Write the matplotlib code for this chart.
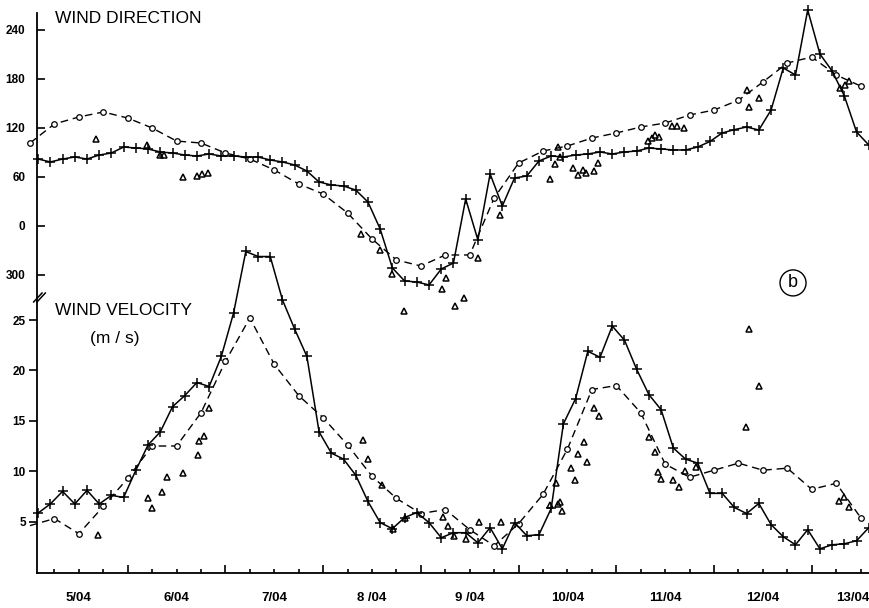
import numpy as np
import matplotlib.pyplot as plt

plt.rcParams['font.family'] = ['Liberation Sans', 'DejaVu Sans']

# time in hours from 5/04 00h
obs_hours = np.arange(2, 207, 3)
model_hours = np.arange(0, 205, 6)

# wind direction in degrees, kept continuous below 0 (-60 is 300 deg)
obs_dir = [82, 78.4, 82, 84.5, 82, 86.9, 89.4, 96.7, 95.5, 94.3,
           90.6, 89.4, 86.9, 85.7, 88.2, 85.7, 85.7, 84.5, 84.5, 80.8,
           78.4, 74.7, 67.3, 53.9, 50.2, 49, 44, 29.4, -3.7, -51.4,
           -67.3, -68.6, -72.2, -52.7, -45.3, 33.1, -17.1, 63.7, 24.5, 58.8,
           61.2, 79.6, 85.7, 84.5, 86.9, 88.2, 90.6, 88.2, 90.6, 91.8,
           95.5, 94.3, 93.1, 93.1, 96.7, 103.5, 113.9, 118, 121.2, 117.5,
           142, 193.5, 184.9, 264.5, 210.6, 189.8, 159.2, 115.1, 99.2]
obs_vel = [5.85, 6.75, 8.0, 6.75, 8.1, 6.75, 7.6, 7.4, 10.1, 12.6,
           13.9, 16.4, 17.5, 18.8, 18.4, 21.4, 25.7, 31.8, 31.3, 31.3,
           27.0, 24.1, 21.4, 13.9, 11.8, 11.2, 9.6, 7.0, 4.9, 4.3,
           5.4, 5.9, 4.9, 3.4, 3.9, 3.9, 2.9, 4.4, 2.3, 4.9,
           3.6, 3.7, 6.3, 14.7, 17.2, 21.9, 21.3, 24.4, 23.0, 20.1,
           17.6, 16.1, 12.3, 11.2, 10.8, 7.8, 7.8, 6.4, 5.8, 6.8,
           4.7, 3.5, 2.7, 4.2, 2.3, 2.7, 2.8, 3.1, 4.4]

model_dir = [101.6, 124.9, 133.5, 139.6, 132.2, 120, 104, 101.6, 89.4, 82,
             68.6, 51.4, 39.2, 15.9, -15.9, -41.6, -49, -35.5, -35.5, 34.3,
             77.1, 91.8, 98, 107.7, 113.9, 121.2, 126.1, 135.9, 142, 154,
             176.3, 199.6, 206.9, 184.9, 171.4]
model_vel = [4.6, 5.3, 3.8, 6.5, 9.3, 12.5, 12.5, 15.8, 20.9, 25.2,
             20.6, 17.5, 15.3, 12.6, 9.5, 7.3, 5.8, 6.2, 4.2, 2.6,
             4.8, 7.7, 12.2, 18.1, 18.5, 15.8, 10.7, 9.4, 10.1, 10.8,
             10.1, 10.3, 8.2, 8.8, 5.4]

tri_dir_hours = [16.2, 28.7, 31.9, 32.9, 37.6, 41.0, 42.3, 43.7, 81.3, 86.0,
                 88.9, 91.9, 101.2, 102.2, 104.4, 106.6, 110.1, 115.5, 127.7, 129.0,
                 129.7, 130.2, 133.4, 134.6, 135.8, 136.6, 138.6, 139.5, 151.8, 152.8,
                 153.5, 154.5, 157.7, 158.9, 160.6, 176.1, 176.6, 179.1, 199.0, 200.2,
                 201.2]
tri_dir = [106.5, 99.2, 86.9, 86.9, 60, 61.2, 63.7, 64.9, -9.8, -29.4,
           -58.8, -104, -77.1, -63.7, -98, -88.2, -39.2, 13.5, 57.5, 75.9,
           96.7, 84.5, 71, 62.4, 68.6, 64.9, 67.3, 77.1, 104, 107.7,
           111.4, 109, 122.4, 122.4, 120, 166.5, 145.7, 156.7, 169, 172.6,
           177.5]

tri_vel_hours = [16.7, 29.0, 30.0, 32.4, 33.7, 37.6, 41.3, 41.5, 42.7, 44.0,
                 81.8, 83.0, 86.5, 89.2, 92.1, 101.4, 102.7, 104.2, 107.1, 110.3,
                 115.7, 127.7, 129.2, 129.7, 130.2, 130.7, 132.9, 133.9, 134.6, 136.1,
                 136.8, 138.6, 139.8, 152.1, 153.5, 154.3, 155.0, 158.0, 159.4, 160.9,
                 163.6, 175.9, 176.6, 179.1, 198.7, 199.9, 201.2]
tri_vel = [3.7, 7.3, 6.3, 7.9, 9.4, 9.8, 11.6, 13.0, 13.5, 16.3,
           13.1, 11.2, 8.6, 4.3, 5.4, 5.5, 4.6, 3.6, 3.3, 5.0,
           5.0, 6.6, 8.8, 6.7, 6.9, 6.1, 10.3, 9.1, 11.7, 12.9,
           10.9, 16.3, 15.5, 13.4, 11.9, 9.9, 9.2, 9.1, 8.4, 10.0,
           10.4, 14.4, 24.1, 18.5, 7.0, 7.4, 6.4]

day_labels = ['5/04', '6/04', '7/04', '8 /04', '9 /04', '10/04', '11/04', '12/04', '13/04']
dir_ticks = [240, 180, 120, 60, 0, -60]
vel_ticks = [5, 10, 15, 20, 25]

fig = plt.figure(figsize=(8.7, 6.08), dpi=100)
rect = [37 / 870, 35 / 608, 833 / 870, 560 / 608]
ax = fig.add_axes(rect)
axd = fig.add_axes(rect, sharex=ax)
axd.patch.set_visible(False)
for s in axd.spines.values():
    s.set_visible(False)
ax.spines['top'].set_visible(False)
ax.spines['right'].set_visible(False)
ax.spines['left'].set_linewidth(1.3)
ax.spines['bottom'].set_linewidth(1.3)

solid = dict(color='k', lw=1.1, marker='+', ms=7, mew=1.1, clip_on=False)
dashed = dict(color='k', lw=1.0, ls=(0, (5.5, 3.5)), marker='o', ms=4,
              mfc='white', mec='k', mew=0.9, clip_on=False)
tri = dict(ls='none', marker='^', ms=5, mfc='none', mec='k', mew=1.1)

# direction panel
axd.plot(model_hours, model_dir, **dashed)
axd.plot(obs_hours, obs_dir, **solid)
axd.plot(tri_dir_hours, tri_dir, **tri)

# velocity panel (first model circle sits under the axis)
ax.plot(model_hours, model_vel, markevery=slice(1, None), **dashed)
ax.plot(obs_hours, obs_vel, **solid)
ax.plot(tri_vel_hours, tri_vel, **tri)

ax.set_xlim(1.72, 206.3)
ax.set_ylim(-0.1, 55.46)
axd.set_ylim(-424.9, 260.8)

ax.set_xticks(np.arange(24, 205, 24))
ax.set_xticks(np.arange(6, 207, 6), minor=True)
ax.tick_params(axis='x', which='major', direction='in', length=6, width=1.2, labelbottom=False)
ax.tick_params(axis='x', which='minor', direction='in', length=3, width=1.2)
axd.tick_params(axis='x', which='both', bottom=False, labelbottom=False)

ax.set_yticks(vel_ticks)
ax.set_yticklabels([str(v) for v in vel_ticks], fontweight='bold')
ax.tick_params(axis='y', direction='out', length=6, width=1.2, pad=2, labelsize=8.5)

axd.set_yticks(dir_ticks)
axd.set_yticklabels([str(d % 360) for d in dir_ticks], fontweight='bold')
axd.tick_params(axis='y', direction='in', length=6, width=1.2, pad=8.5, labelsize=8.5)

# day names centred on noon
xt = ax.get_xaxis_transform()
for k, lab in enumerate(day_labels):
    h = 12 + 24 * k
    if h > 200:
        ax.text(206.3, -0.0446, lab, transform=xt, ha='right', va='center',
                fontsize=9.5, fontweight='bold')
    else:
        ax.text(h, -0.0446, lab, transform=xt, ha='center', va='center',
                fontsize=9.5, fontweight='bold')

ax.text(0.0216, 0.991, 'WIND DIRECTION', transform=ax.transAxes, fontsize=12.5, va='center')
ax.text(0.0216, 0.468, 'WIND VELOCITY', transform=ax.transAxes, fontsize=12.5, va='center')
ax.text(0.0636, 0.418, '(m / s)', transform=ax.transAxes, fontsize=12.5, va='center')
ax.text(0.9076, 0.518, 'b', transform=ax.transAxes, fontsize=13, ha='center', va='center',
        bbox=dict(boxstyle='circle,pad=0.25', fc='white', ec='k', lw=1.0))

# axis break marks on the left spine
for dx in (0.0, 0.0040):
    ax.plot([-0.004 + dx, 0.006 + dx], [0.484, 0.500], color='k', lw=1.1,
            transform=ax.transAxes, clip_on=False)

fig.savefig('out.png', dpi=100)
